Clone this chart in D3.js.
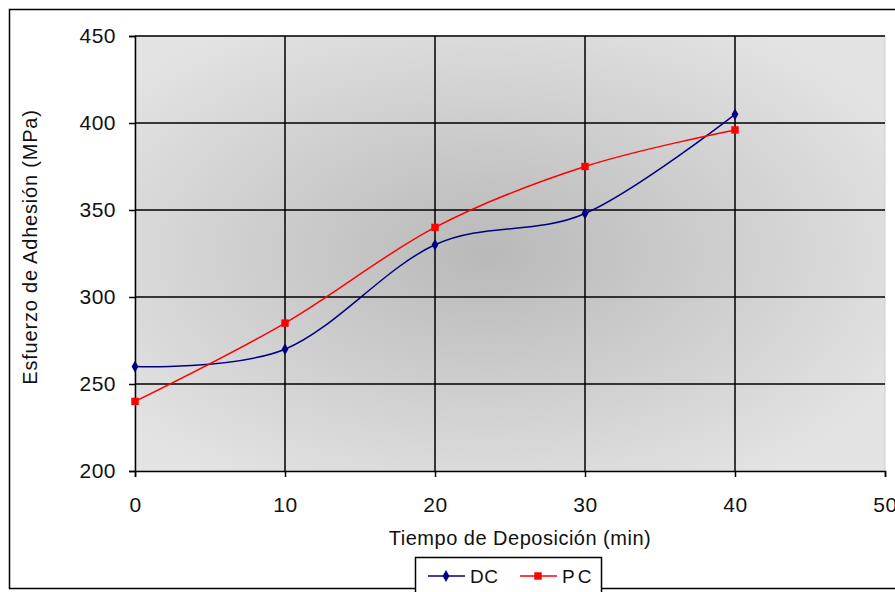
<!DOCTYPE html>
<html>
<head>
<meta charset="utf-8">
<script src="https://cdn.jsdelivr.net/npm/d3@7"></script>
<style>
  body { margin: 0; background: #fff; }
  svg text { font-family: "Liberation Sans", Arial, sans-serif; fill: #111; }
</style>
</head>
<body>
<svg id="chart" width="895" height="592"></svg>
<script>
const tiempos = [0, 10, 20, 30, 40]
const dcValues = [260, 270, 330, 348, 405]
const pcValues = [240, 285, 340, 375, 396]
const xTicks = [0, 10, 20, 30, 40, 50]
const yTicks = [200, 250, 300, 350, 400, 450]

const margin = { left: 135, right: 10, top: 36, bottom: 121 }
const size = { width: 895, height: 592 }

const svg = d3.select('#chart')

// outer frame of the chart area
svg.append('rect')
    .attr('x', 9.5).attr('y', 9.5)
    .attr('width', 900).attr('height', 579)
    .attr('fill', '#fff')
    .attr('stroke', '#000')
    .attr('stroke-width', 1.5)

const xScale = d3.scaleLinear()
    .domain([0, 50])
    .range([margin.left, size.width - margin.right])

const yScale = d3.scaleLinear()
    .domain([200, 450])
    .range([size.height - margin.bottom, margin.top])

// plot background gradient
const defs = svg.append('defs')
const grad = defs.append('radialGradient')
    .attr('id', 'bg')
    .attr('cx', 0.47).attr('cy', 0.5).attr('r', 0.62)
grad.append('stop').attr('offset', '0%').attr('stop-color', '#b9b9b9')
grad.append('stop').attr('offset', '100%').attr('stop-color', '#e3e3e3')

svg.append('rect')
    .attr('x', xScale(0)).attr('y', yScale(450))
    .attr('width', xScale(50) - xScale(0))
    .attr('height', yScale(200) - yScale(450))
    .attr('fill', 'url(#bg)')
    .attr('stroke', '#cfcfcf')

// gridlines
const g = svg.append('g')
g.selectAll('.hgrid')
    .data(yTicks.filter(d => d > 200))
    .enter().append('line')
    .attr('x1', xScale(0)).attr('x2', xScale(50))
    .attr('y1', d => yScale(d)).attr('y2', d => yScale(d))
    .attr('stroke', '#000').attr('stroke-width', 1.5)

g.selectAll('.vgrid')
    .data(xTicks.filter(d => d > 0 && d < 50))
    .enter().append('line')
    .attr('x1', d => xScale(d)).attr('x2', d => xScale(d))
    .attr('y1', yScale(450)).attr('y2', yScale(200))
    .attr('stroke', '#000').attr('stroke-width', 1.5)

// axes
const xAxis = d3.axisBottom(xScale).tickValues(xTicks).tickSize(6).tickPadding(20).tickFormat(d3.format('d'))
const xg = svg.append('g')
    .attr('transform', `translate(0, ${yScale(200)})`)
    .call(xAxis)
xg.select('.domain').attr('stroke-width', 1.5)
xg.selectAll('line').attr('stroke-width', 1.5)
xg.selectAll('text').style('font-size', '21px').style('letter-spacing', '0.5px')

const yAxis = d3.axisLeft(yScale).tickValues(yTicks).tickSize(6).tickPadding(13)
const yg = svg.append('g')
    .attr('transform', `translate(${xScale(0)}, 0)`)
    .call(yAxis)
yg.select('.domain').attr('stroke-width', 1.5)
yg.selectAll('line').attr('stroke-width', 1.5)
yg.selectAll('text').style('font-size', '21px').style('letter-spacing', '0.5px')

// axis titles
svg.append('text')
    .attr('x', 520).attr('y', 545)
    .attr('text-anchor', 'middle')
    .style('font-size', '20px')
    .style('letter-spacing', '0.5px')
    .text('Tiempo de Deposición (min)')

svg.append('text')
    .attr('transform', 'translate(37, 247) rotate(-90)')
    .attr('text-anchor', 'middle')
    .style('font-size', '20px')
    .style('letter-spacing', '0.8px')
    .text('Esfuerzo de Adhesión (MPa)')

// series
const series = [
    { name: 'DC', values: dcValues, color: '#000080', marker: d3.symbolDiamond, msize: 40 },
    { name: 'PC', values: pcValues, color: '#ff0000', marker: d3.symbolSquare, msize: 55 }
]

const line = d3.line()
    .x((d, i) => xScale(tiempos[i]))
    .y(d => yScale(d))
    .curve(d3.curveCatmullRom.alpha(0))

series.forEach(s => {
    svg.append('path')
        .datum(s.values)
        .attr('d', line)
        .attr('fill', 'none')
        .attr('stroke', s.color)
        .attr('stroke-width', 1.5)

    svg.selectAll(null)
        .data(s.values)
        .enter().append('path')
        .attr('d', d3.symbol().type(s.marker).size(s.msize))
        .attr('transform', (d, i) => `translate(${xScale(tiempos[i])}, ${yScale(d)})`)
        .attr('fill', s.color)
})

// legend
const legend = svg.append('g')
legend.append('rect')
    .attr('x', 415.5).attr('y', 557.5)
    .attr('width', 186).attr('height', 40)
    .attr('fill', '#fff')
    .attr('stroke', '#000')
    .attr('stroke-width', 1.5)

series.forEach((s, i) => {
    const lx = 428 + i * 92
    const ly = 576
    legend.append('line')
        .attr('x1', lx).attr('x2', lx + 37)
        .attr('y1', ly).attr('y2', ly)
        .attr('stroke', s.color).attr('stroke-width', 1.5)
    legend.append('path')
        .attr('d', d3.symbol().type(s.marker).size(s.msize))
        .attr('transform', `translate(${lx + 18}, ${ly})`)
        .attr('fill', s.color)
    legend.append('text')
        .attr('x', lx + 42).attr('y', ly + 7)
        .style('font-size', '19px')
        .style('letter-spacing', i === 1 ? '3px' : '0.5px')
        .text(s.name)
})
</script>
</body>
</html>
